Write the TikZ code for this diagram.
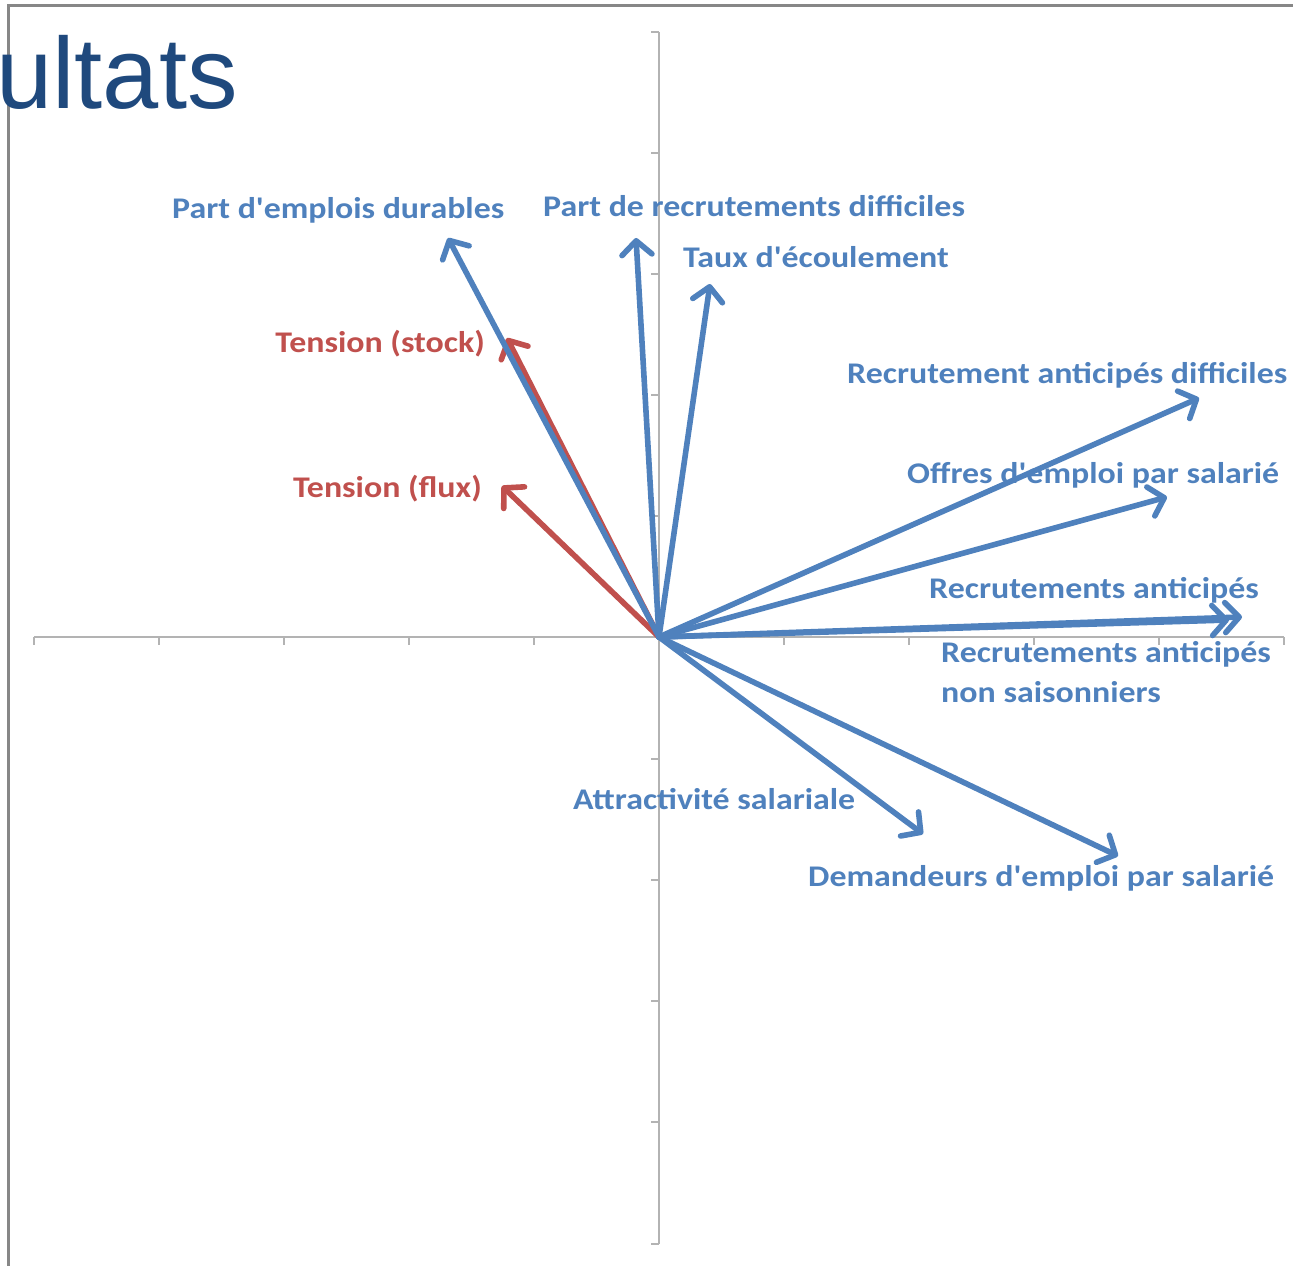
\documentclass[tikz,border=0pt]{standalone}
\usepackage{fontspec}
\setmainfont{Liberation Sans}
\newfontfamily\labfont{Carlito}[FakeStretch=1.13]
\usetikzlibrary{arrows.meta}
\definecolor{vecblue}{HTML}{4F81BD}
\definecolor{vecred}{HTML}{C0504D}
\definecolor{titleblue}{HTML}{1F497D}
\definecolor{axisgray}{HTML}{B3B3B3}
\definecolor{framegray}{HTML}{878787}
\begin{document}
\begin{tikzpicture}[x=1pt,y=-1pt,
  axisline/.style={draw=axisgray,line width=1.6pt},
  vec/.style={line width=5.6pt,line cap=round,
    -{Straight Barb[length=14pt,width=30pt,line cap=round,line join=round]}},
  bluevec/.style={vec,draw=vecblue},
  redvec/.style={vec,draw=vecred},
  lab/.style={font=\labfont\bfseries\fontsize{30}{40}\selectfont,inner sep=0pt,text=vecblue},
  redlab/.style={lab,text=vecred}]
\useasboundingbox (0,0) rectangle (1293,1266);
\begin{scope}
\clip (0,0) rectangle (1293,1266);
% slide frame
\draw[framegray,line width=3pt] (8,1270) -- (8,5) -- (1300,5);
% title fragment
\node[anchor=base west,inner sep=0pt,text=titleblue,font=\fontsize{101}{110}\selectfont] (title) at (-4,108) {ultats};
% axes with tick marks
\draw[axisline] (34,637) -- (1284,637);
\draw[axisline] (659,32) -- (659,1244);
\foreach \x in {34,159,284,409,534,784,909,1034,1159,1284}
  \draw[axisline] (\x,637) -- (\x,645);
\foreach \y in {32,153,274,395,516,759,880,1001,1122,1244}
  \draw[axisline] (659,\y) -- (651,\y);
\end{scope}
% origin and vector end points
\coordinate (o) at (659,637);
\coordinate (tstock) at (507,338);
\coordinate (tflux) at (502,486);
\coordinate (durab) at (448,238);
\coordinate (rdiff) at (636,238);
\coordinate (ecoul) at (710,284);
\coordinate (radiff) at (1199,398);
\coordinate (offres) at (1167,497);
\coordinate (ranti) at (1242,617);
\coordinate (rnons) at (1229,620);
\coordinate (attr) at (923,834);
\coordinate (deman) at (1118,856);
% vectors
\draw[redvec] (o) -- (tstock);
\draw[redvec] (o) -- (tflux);
\draw[bluevec] (o) -- (durab);
\draw[bluevec] (o) -- (rdiff);
\draw[bluevec] (o) -- (ecoul);
\draw[bluevec] (o) -- (radiff);
\draw[bluevec] (o) -- (offres);
\draw[bluevec] (o) -- (rnons);
\draw[bluevec] (o) -- (ranti);
\draw[bluevec] (o) -- (attr);
\draw[bluevec] (o) -- (deman);
% labels
\node[lab,anchor=base west] (ldurab) at (172,218) {Part d'emplois durables};
\node[lab,anchor=base west] (lrdiff) at (543,216) {Part de recrutements difficiles};
\node[lab,anchor=base west] (lecoul) at (683,267) {Taux d'écoulement};
\node[redlab,anchor=base east] (ltstock) at (485,352) {Tension (stock)};
\node[redlab,anchor=base east] (ltflux) at (482,497) {Tension (flux)};
\node[lab,anchor=base west] (lradiff) at (847,383) {Recrutement anticipés difficiles};
\node[lab,anchor=base west] (loffres) at (907,483) {Offres d'emploi par salarié};
\node[lab,anchor=base west] (lranti) at (929,598) {Recrutements anticipés};
\node[lab,anchor=base west,align=left] (lrnons) at (941,702) {Recrutements anticipés\\non saisonniers};
\node[lab,anchor=base west] (lattr) at (573,809) {Attractivité salariale};
\node[lab,anchor=base west] (ldeman) at (808,886) {Demandeurs d'emploi par salarié};
\end{tikzpicture}
\end{document}
